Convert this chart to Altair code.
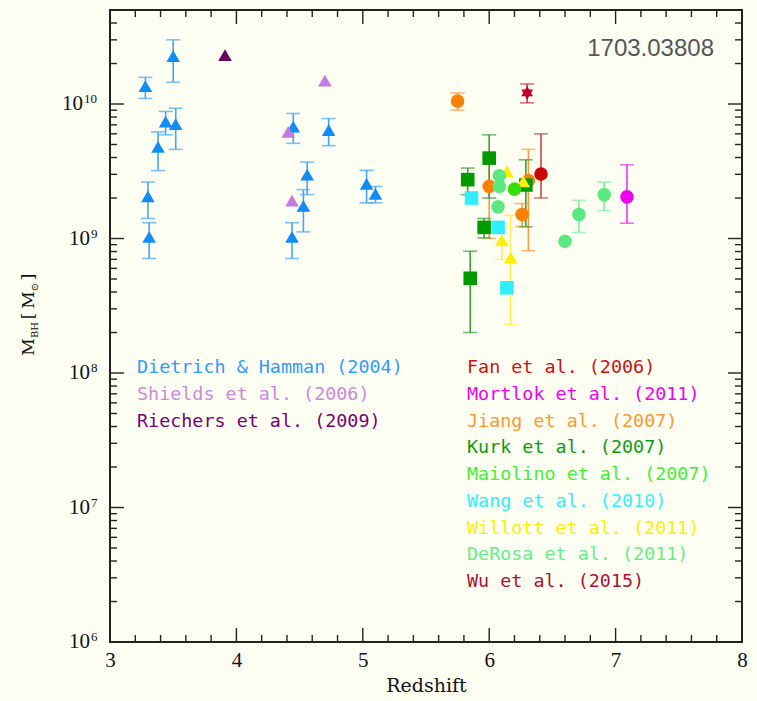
import altair as alt
import pandas as pd

# ---------------------------------------------------------------------------
# Black-hole masses of high-redshift quasars: redshift, mass, error range
# (lo/hi = None where no error bar is drawn)
# ---------------------------------------------------------------------------
dh_z = [3.28, 3.50, 3.44, 3.52, 3.38, 3.30, 3.31, 4.45, 4.73, 4.56, 4.53, 4.44, 5.03, 5.10]
dh_m = [1.36e10, 2.27e10, 7.4e9, 7.1e9, 4.8e9, 2.06e9, 1.03e9, 6.8e9, 6.4e9, 2.98e9, 1.75e9, 1.03e9, 2.55e9, 2.15e9]
dh_lo = [1.10e10, 1.45e10, 5.9e9, 4.6e9, 3.2e9, 1.41e9, 7.1e8, 5.1e9, 4.9e9, 2.12e9, 1.12e9, 7.1e8, 1.84e9, 1.84e9]
dh_hi = [1.58e10, 3.0e10, 8.8e9, 9.3e9, 6.2e9, 2.63e9, 1.31e9, 8.5e9, 7.8e9, 3.70e9, 2.31e9, 1.31e9, 3.21e9, 2.44e9]

sh_z = [4.70, 4.41, 4.44]
sh_m = [1.49e10, 6.2e9, 1.91e9]

ri_z = [3.91]
ri_m = [2.31e10]

ji_z = [5.75, 6.00, 6.31, 6.26]
ji_m = [1.05e10, 2.44e9, 2.70e9, 1.51e9]
ji_lo = [9.0e9, 1.0e9, 8.1e8, 1.23e9]
ji_hi = [1.21e10, 3.9e9, 4.6e9, 1.82e9]

ku_z = [5.83, 6.00, 5.96, 5.85, 6.29]
ku_m = [2.74e9, 3.96e9, 1.21e9, 5.06e8, 2.50e9]
ku_lo = [2.12e9, 2.0e9, 1.01e9, 2.0e8, 1.22e9]
ku_hi = [3.34e9, 5.9e9, 1.41e9, 8.05e8, 3.85e9]

wa_z = [5.86, 6.07, 6.14]
wa_m = [2.0e9, 1.21e9, 4.3e8]

wi_z = [6.10, 6.17, 6.14, 6.27]
wi_m = [9.7e8, 7.2e8, 3.15e9, 2.66e9]
wi_lo = [7.0e8, 2.3e8, None, None]
wi_hi = [1.23e9, 1.49e9, None, None]

dr_z = [6.08, 6.08, 6.07, 6.60, 6.71, 6.91]
dr_m = [2.93e9, 2.44e9, 1.72e9, 9.55e8, 1.51e9, 2.12e9]
dr_lo = [None, None, None, None, 1.11e9, 1.61e9]
dr_hi = [None, None, None, None, 1.92e9, 2.63e9]

ma_z = [6.20]
ma_m = [2.33e9]

fa_z = [6.41]
fa_m = [3.02e9]
fa_lo = [2.0e9]
fa_hi = [6.0e9]

mo_z = [7.09]
mo_m = [2.04e9]
mo_lo = [1.3e9]
mo_hi = [3.53e9]

wu_z = [6.30]
wu_m = [1.21e10]
wu_lo = [1.02e10]
wu_hi = [1.41e10]

# reference name, data, marker colour, error-bar colour, shape, size
HEX = "M0,-1L0.866,0.5L-0.866,0.5Z M0,1L-0.866,-0.5L0.866,-0.5Z"
series = [
    ("Dietrich & Hamman (2004)", dh_z, dh_m, dh_lo, dh_hi, "#0f8cf5", "#44a6f8", "triangle-up", 185),
    ("Shields et al. (2006)", sh_z, sh_m, None, None, "#c57ae0", "#c57ae0", "triangle-up", 185),
    ("Riechers et al. (2009)", ri_z, ri_m, None, None, "#650560", "#650560", "triangle-up", 185),
    ("Jiang et al. (2007)", ji_z, ji_m, ji_lo, ji_hi, "#ff8000", "#ff9a40", "circle", 225),
    ("Kurk et al. (2007)", ku_z, ku_m, ku_lo, ku_hi, "#009a00", "#3c9c3c", "square", 118),
    ("Wang et al. (2010)", wa_z, wa_m, None, None, "#30eeff", "#30eeff", "square", 118),
    ("Willott et al. (2011)", wi_z, wi_m, wi_lo, wi_hi, "#ffee00", "#fff050", "triangle-up", 170),
    ("DeRosa et al. (2011)", dr_z, dr_m, dr_lo, dr_hi, "#5ae880", "#80ee9c", "circle", 225),
    ("Maiolino et al. (2007)", ma_z, ma_m, None, None, "#33e000", "#33e000", "circle", 225),
    ("Fan et al. (2006)", fa_z, fa_m, fa_lo, fa_hi, "#cc0000", "#cc4444", "circle", 225),
    ("Mortlok et al. (2011)", mo_z, mo_m, mo_lo, mo_hi, "#ee00ee", "#ee33ee", "circle", 225),
    ("Wu et al. (2015)", wu_z, wu_m, wu_lo, wu_hi, "#c00030", "#cc3355", HEX, 150),
]

rows = []
for name, zs, ms, los, his, *_ in series:
    for i, (z, m) in enumerate(zip(zs, ms)):
        rows.append({
            "ref": name, "z": z, "m": m,
            "lo": los[i] if los else None,
            "hi": his[i] if his else None,
        })
df = pd.DataFrame(rows)

names = [s[0] for s in series]
fill_scale = alt.Scale(domain=names, range=[s[5] for s in series])
err_scale = alt.Scale(domain=names, range=[s[6] for s in series])
shape_scale = alt.Scale(domain=names, range=[s[7] for s in series])
size_scale = alt.Scale(domain=names, range=[s[8] for s in series])

# legend columns (text only, coloured like the data)
legend_left = [
    ("Dietrich & Hamman (2004)", "#3399ff"),
    ("Shields et al. (2006)", "#cc88dd"),
    ("Riechers et al. (2009)", "#770077"),
]
legend_right = [
    ("Fan et al. (2006)", "#cc1111"),
    ("Mortlok et al. (2011)", "#ee00ee"),
    ("Jiang et al. (2007)", "#ff9933"),
    ("Kurk et al. (2007)", "#119911"),
    ("Maiolino et al. (2007)", "#44ee33"),
    ("Wang et al. (2010)", "#33eeff"),
    ("Willott et al. (2011)", "#ffee00"),
    ("DeRosa et al. (2011)", "#66ee88"),
    ("Wu et al. (2015)", "#aa1133"),
]

decades = [1e6, 1e7, 1e8, 1e9, 1e10]
exponents = ["6", "7", "8", "9", "10"]
x_major = [3, 4, 5, 6, 7, 8]

W, H = 632, 632
BG = "#fdfff2"
XDOM = [3, 8]
YDOM = [1e6, 5e10]
NUM_FONT = "Liberation Serif"

xs = alt.Scale(domain=XDOM, nice=False, zero=False)
ys = alt.Scale(type="log", domain=YDOM, nice=False)

x_axis = alt.Axis(
    values=x_major, format="d", ticks=False, domain=False, grid=False,
    labelFont=NUM_FONT, labelFontSize=21, labelColor="#111",
    labelPadding=7, labelFlush=False, labelOverlap=False,
    title="Redshift", titleFont="DejaVu Serif", titleFontSize=19,
    titleFontWeight="normal", titleColor="#111", titlePadding=6,
)
# y labels are drawn as text layers (base "10" plus raised exponent)
y_axis = alt.Axis(
    values=decades, ticks=False, domain=False, grid=False,
    labels=False, title=None,
)

base = alt.Chart(df)

# error bars: vertical segment plus caps
err = base.transform_filter("isValid(datum.lo)")
err_line = err.mark_rule(strokeWidth=1.6).encode(
    x=alt.X("z:Q", scale=xs, axis=x_axis),
    y=alt.Y("lo:Q", scale=ys, axis=y_axis),
    y2="hi:Q",
    color=alt.Color("ref:N", scale=err_scale, legend=None),
)
cap_lo = err.mark_tick(orient="horizontal", size=14, thickness=1.6).encode(
    x="z:Q", y="lo:Q", color=alt.Color("ref:N", scale=err_scale, legend=None)
)
cap_hi = err.mark_tick(orient="horizontal", size=14, thickness=1.6).encode(
    x="z:Q", y="hi:Q", color=alt.Color("ref:N", scale=err_scale, legend=None)
)

points = base.mark_point(filled=True, opacity=1, strokeWidth=0).encode(
    x="z:Q",
    y="m:Q",
    fill=alt.Fill("ref:N", scale=fill_scale, legend=None),
    shape=alt.Shape("ref:N", scale=shape_scale, legend=None),
    size=alt.Size("ref:N", scale=size_scale, legend=None),
)

# inward ticks on all four sides of the frame
x_minor = [round(3 + 0.2 * i, 1) for i in range(26) if i % 5]
y_minor = [k * d for d in decades for k in range(2, 10) if k * d <= YDOM[1]]
tx = pd.DataFrame({"v": x_major + x_minor, "len": [14] * len(x_major) + [7] * len(x_minor)})
ty = pd.DataFrame({"v": decades + y_minor, "len": [14] * len(decades) + [7] * len(y_minor)})

tick_style = dict(color="#222", strokeWidth=1.4)
ticks = []
for L in (14, 7):
    ticks += [
        alt.Chart(tx).transform_filter(f"datum.len == {L}").mark_rule(**tick_style).encode(
            x="v:Q", y=alt.value(H), y2=alt.YValue(H - L)),
        alt.Chart(tx).transform_filter(f"datum.len == {L}").mark_rule(**tick_style).encode(
            x="v:Q", y=alt.value(0), y2=alt.YValue(L)),
        alt.Chart(ty).transform_filter(f"datum.len == {L}").mark_rule(**tick_style).encode(
            y="v:Q", x=alt.value(0), x2=alt.XValue(L)),
        alt.Chart(ty).transform_filter(f"datum.len == {L}").mark_rule(**tick_style).encode(
            y="v:Q", x=alt.value(W), x2=alt.XValue(W - L)),
    ]

# y tick labels: 10 with a superscript exponent
ylab = pd.DataFrame({"v": decades, "e": exponents})
ylab_layers = []
for two_digit, edge in ((False, -20), (True, -27)):
    sub = alt.Chart(ylab).transform_filter(
        "length(datum.e) == 2" if two_digit else "length(datum.e) == 1"
    )
    ylab_layers += [
        sub.mark_text(text="10", font=NUM_FONT, fontSize=21, color="#111",
                      align="right", baseline="middle").encode(
            y="v:Q", x=alt.value(edge)),
        sub.mark_text(font=NUM_FONT, fontSize=13, color="#111",
                      align="left", baseline="middle", dy=-5).encode(
            y="v:Q", x=alt.value(edge + 1), text="e:N"),
    ]

one = pd.DataFrame({"k": [0]})


def label(text, x, y, size, color, font, angle=0, align="left"):
    kw = dict(text=text, fontSize=size, color=color, font=font,
              align=align, baseline="middle")
    if angle:
        kw["angle"] = angle
    return alt.Chart(one).mark_text(**kw).encode(x=alt.value(x), y=alt.value(y))


texts = []
LEG_FONT = "DejaVu Sans Mono"
for i, (t, c) in enumerate(legend_left):
    texts.append(label(t, 27, 357 + 26.75 * i, 18.4, c, LEG_FONT))
for i, (t, c) in enumerate(legend_right):
    texts.append(label(t, 357, 357 + 26.75 * i, 18.4, c, LEG_FONT))

texts.append(label("1703.03808", 604, 39, 24, "#555555", "Liberation Sans", align="right"))

# y-axis title  M_BH [M_sun], written bottom-to-top
YT = "DejaVu Serif"
texts += [
    label("M", -81, 337, 17, "#111", YT, angle=270, align="center"),
    label("BH", -75, 320, 10, "#111", YT, angle=270, align="center"),
    label("[", -81, 306, 17, "#111", YT, angle=270, align="center"),
    label("M", -81, 290, 17, "#111", YT, angle=270, align="center"),
    label("⊙", -75, 277, 10, "#111", YT, angle=270, align="center"),
    label("]", -81, 267, 17, "#111", YT, angle=270, align="center"),
]

chart = alt.layer(
    err_line, cap_lo, cap_hi, points, *ticks, *ylab_layers, *texts
).properties(
    width=W, height=H,
    background=BG,
    padding={"left": 110, "top": 10, "right": 15, "bottom": 59},
    autosize=alt.AutoSizeParams(type="none"),
).configure_view(
    stroke="#222", strokeWidth=2, fill=BG
)

chart.save("out.html", embed_options={"renderer": "svg", "actions": False})
